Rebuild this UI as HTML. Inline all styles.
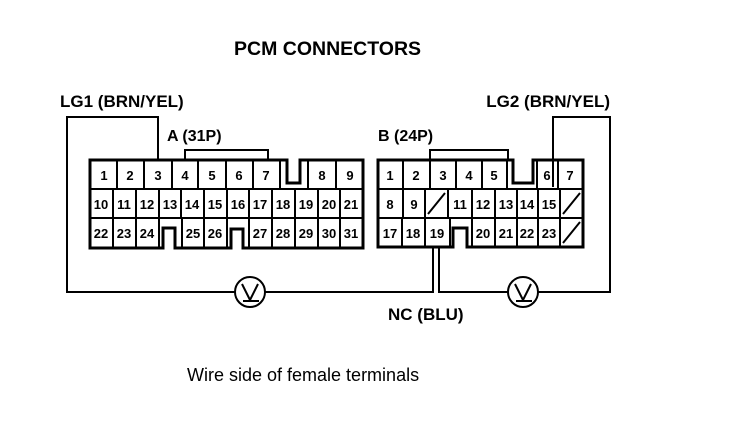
<!DOCTYPE html>
<html><head><style>
html,body{margin:0;padding:0;background:#fff;}
svg{display:block}
text{font-family:"Liberation Sans",Arial,sans-serif;fill:#000}
.b{font-weight:bold}
.n{font-size:13px;font-weight:bold;text-anchor:middle}
</style></head><body>
<svg width="736" height="422" viewBox="0 0 736 422" xmlns="http://www.w3.org/2000/svg">
<g stroke="#000" fill="none" stroke-width="2">
<!-- Connector A outline -->
<path d="M90 160 H287 V183 H300 V160 H363 V248 H243 V229 H231 V248 H175 V228 H163 V248 H90 Z" stroke-width="3"/>
<path d="M185 160 V150 H268 V160"/>
<!-- row lines A -->
<line x1="90" y1="189" x2="363" y2="189"/>
<line x1="90" y1="218" x2="363" y2="218"/>
<!-- row1 verticals -->
<path d="M117 160V189 M144 160V189 M172 160V189 M198 160V189 M226 160V189 M253 160V189 M280 160V189 M308 160V189 M336 160V189"/>
<!-- row2 verticals -->
<path d="M113 189V218 M136 189V218 M159 189V218 M181 189V218 M204 189V218 M227 189V218 M249 189V218 M272 189V218 M295 189V218 M318 189V218 M340 189V218"/>
<!-- row3 verticals -->
<path d="M113 218V248 M136 218V248 M159 218V248 M182 218V248 M204 218V248 M227 218V248 M249 218V248 M272 218V248 M295 218V248 M318 218V248 M340 218V248"/>

<!-- Connector B outline -->
<path d="M378 160 H513 V183 H533 V160 H583 V247 H467 V228 H453 V247 H378 Z" stroke-width="3"/>
<path d="M430 160 V150 H508 V160"/>
<line x1="378" y1="189" x2="583" y2="189"/>
<line x1="378" y1="218" x2="583" y2="218"/>
<path d="M403 160V189 M430 160V189 M456 160V189 M482 160V189 M507 160V189 M537 160V189 M558 160V189"/>
<path d="M403 189V218 M425 189V218 M448 189V218 M472 189V218 M495 189V218 M517 189V218 M538 189V218 M560 189V218"/>
<path d="M402 218V247 M425 218V247 M450 218V247 M472 218V247 M495 218V247 M517 218V247 M538 218V247 M560 218V247"/>
<path d="M428 214 L445 193 M563 214 L580 193 M563 243 L580 222"/>

<!-- wires -->
<path d="M158 160 V117 H67 V292 H235"/>
<path d="M265 292 H433 V247"/>
<path d="M439 247 V292 H508"/>
<path d="M538 292 H610 V117 H553 V187"/>
<!-- meters -->
<circle cx="250" cy="292" r="15"/>
<circle cx="523" cy="292" r="15"/>
<path d="M242 284 L250 300 L258 284 M243 301 H259"/>
<path d="M515 284 L523 300 L531 284 M516 301 H532"/>
</g>

<text x="234" y="55" class="b" font-size="19.5">PCM CONNECTORS</text>
<text x="60" y="107" class="b" font-size="17">LG1 (BRN/YEL)</text>
<text x="610" y="107" class="b" font-size="17" text-anchor="end">LG2 (BRN/YEL)</text>
<text x="167" y="141" class="b" font-size="16">A (31P)</text>
<text x="378" y="141" class="b" font-size="16">B (24P)</text>
<text x="388" y="320" class="b" font-size="17">NC (BLU)</text>
<text x="187" y="381" font-size="18">Wire side of female terminals</text>

<g class="n">
<text x="104" y="180" class="n">1</text><text x="130" y="180" class="n">2</text><text x="158" y="180" class="n">3</text><text x="185" y="180" class="n">4</text><text x="212" y="180" class="n">5</text><text x="239" y="180" class="n">6</text><text x="266" y="180" class="n">7</text><text x="322" y="180" class="n">8</text><text x="350" y="180" class="n">9</text>
<text x="101" y="209" class="n">10</text><text x="124" y="209" class="n">11</text><text x="147" y="209" class="n">12</text><text x="170" y="209" class="n">13</text><text x="192" y="209" class="n">14</text><text x="215" y="209" class="n">15</text><text x="238" y="209" class="n">16</text><text x="260" y="209" class="n">17</text><text x="283" y="209" class="n">18</text><text x="306" y="209" class="n">19</text><text x="329" y="209" class="n">20</text><text x="351" y="209" class="n">21</text>
<text x="101" y="238" class="n">22</text><text x="124" y="238" class="n">23</text><text x="147" y="238" class="n">24</text><text x="193" y="238" class="n">25</text><text x="215" y="238" class="n">26</text><text x="260" y="238" class="n">27</text><text x="283" y="238" class="n">28</text><text x="306" y="238" class="n">29</text><text x="329" y="238" class="n">30</text><text x="351" y="238" class="n">31</text>

<text x="390" y="180" class="n">1</text><text x="416" y="180" class="n">2</text><text x="443" y="180" class="n">3</text><text x="469" y="180" class="n">4</text><text x="494" y="180" class="n">5</text><text x="547" y="180" class="n">6</text><text x="570" y="180" class="n">7</text>
<text x="390" y="209" class="n">8</text><text x="414" y="209" class="n">9</text><text x="460" y="209" class="n">11</text><text x="483" y="209" class="n">12</text><text x="506" y="209" class="n">13</text><text x="527" y="209" class="n">14</text><text x="549" y="209" class="n">15</text>
<text x="390" y="238" class="n">17</text><text x="413" y="238" class="n">18</text><text x="437" y="238" class="n">19</text><text x="483" y="238" class="n">20</text><text x="506" y="238" class="n">21</text><text x="527" y="238" class="n">22</text><text x="549" y="238" class="n">23</text>
</g>
</svg>
</body></html>
